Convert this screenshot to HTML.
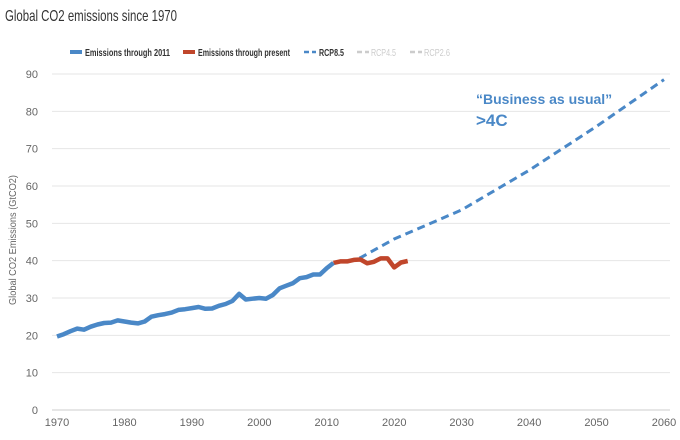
<!DOCTYPE html>
<html><head><meta charset="utf-8"><style>
body{margin:0;background:#fff;width:680px;height:435px;overflow:hidden;font-family:"Liberation Sans",sans-serif}
</style></head><body>
<svg id="chart" width="680" height="435">
<text x="5" y="21" font-size="16" fill="#333" textLength="172" lengthAdjust="spacingAndGlyphs">Global CO2 emissions since 1970</text>
<g id="legend" font-size="10.5" font-weight="bold">
 <g><rect x="70" y="50" width="12" height="4" fill="#4a88c7"/><text x="85" y="56" fill="#333" textLength="85" lengthAdjust="spacingAndGlyphs">Emissions through 2011</text></g>
 <g><rect x="183" y="50" width="12" height="4" fill="#c0462b"/><text x="198" y="56" fill="#333" textLength="92" lengthAdjust="spacingAndGlyphs">Emissions through present</text></g>
 <g><line x1="304" y1="52" x2="316" y2="52" stroke="#4a88c7" stroke-width="2.5" stroke-dasharray="5,3"/><text x="319" y="56" fill="#333" textLength="25" lengthAdjust="spacingAndGlyphs">RCP8.5</text></g>
 <g><line x1="357" y1="52" x2="369" y2="52" stroke="#ccc" stroke-width="2.5" stroke-dasharray="5,3"/><text x="371" y="56" fill="#ccc" font-weight="normal" textLength="25" lengthAdjust="spacingAndGlyphs">RCP4.5</text></g>
 <g><line x1="410" y1="52" x2="422" y2="52" stroke="#ccc" stroke-width="2.5" stroke-dasharray="5,3"/><text x="424" y="56" fill="#ccc" font-weight="normal" textLength="26" lengthAdjust="spacingAndGlyphs">RCP2.6</text></g>
</g>
<text transform="translate(16,240) rotate(-90)" text-anchor="middle" font-size="10.5" fill="#666" textLength="130" lengthAdjust="spacingAndGlyphs">Global CO2 Emissions (GtCO2)</text>
<g id="grid"></g><g id="series"></g>
<text x="476" y="104" font-size="14" font-weight="bold" fill="#4a88c7">“Business as usual”</text>
<text x="476" y="126" font-size="17" font-weight="bold" fill="#4a88c7">&gt;4C</text>
</svg>
<script>
const histYears=[1970,1971,1972,1973,1974,1975,1976,1977,1978,1979,1980,1981,1982,1983,1984,1985,1986,1987,1988,1989,1990,1991,1992,1993,1994,1995,1996,1997,1998,1999,2000,2001,2002,2003,2004,2005,2006,2007,2008,2009,2010,2011];
const histVals=[19.7,20.3,21.1,21.8,21.5,22.3,22.9,23.3,23.4,24.0,23.7,23.4,23.2,23.7,25.0,25.4,25.7,26.1,26.8,27.0,27.3,27.6,27.1,27.2,27.9,28.4,29.2,31.1,29.6,29.8,30.0,29.8,30.8,32.6,33.3,34.0,35.3,35.6,36.3,36.3,38.0,39.4];
const presYears=[2011,2012,2013,2014,2015,2016,2017,2018,2019,2020,2021,2022];
const presVals=[39.4,39.8,39.8,40.2,40.3,39.3,39.7,40.6,40.6,38.2,39.5,39.9];
const rcpYears=[2013,2015,2020,2030,2040,2050,2060];
const rcpVals=[39.6,40.8,45.8,53.6,64.2,76.0,88.5];
const yTicks=[0,10,20,30,40,50,60,70,80,90];
const xTicks=[1970,1980,1990,2000,2010,2020,2030,2040,2050,2060];
const X=y=>57+(y-1970)*(664-57)/90;
const Y=v=>410-v*(410-74)/90;
const NS="http://www.w3.org/2000/svg";
const grid=document.getElementById('grid'),series=document.getElementById('series');
function mk(t,a,p){const e=document.createElementNS(NS,t);for(const k in a)e.setAttribute(k,a[k]);p.appendChild(e);return e;}
yTicks.forEach(v=>{
 const l=mk('line',{x1:52,x2:670,y1:Y(v),y2:Y(v),stroke:v===0?'#ccc':'#e6e6e6','stroke-width':1},grid);
 
 
 const t=mk('text',{x:38,y:Y(v)+4,'text-anchor':'end','font-size':11,fill:'#666'},grid);t.textContent=v;
 
 
});
xTicks.forEach(v=>{
 const t=mk('text',{x:X(v),y:426,'text-anchor':'middle','font-size':11,fill:'#666'},grid);t.textContent=v;
 
 
});
function pts(xs,vs){return xs.map((y,i)=>X(y).toFixed(1)+','+Y(vs[i]).toFixed(1)).join(' ');}
const r=mk('polyline',{points:pts(rcpYears,rcpVals),fill:'none',stroke:'#4a88c7','stroke-width':3,'stroke-dasharray':'8,5'},series);


const p=mk('polyline',{points:pts(presYears,presVals),fill:'none',stroke:'#c0462b','stroke-width':4.5,'stroke-linejoin':'round'},series);


const h=mk('polyline',{points:pts(histYears,histVals),fill:'none',stroke:'#4a88c7','stroke-width':4.5,'stroke-linejoin':'round'},series);


</script>
</body></html>
